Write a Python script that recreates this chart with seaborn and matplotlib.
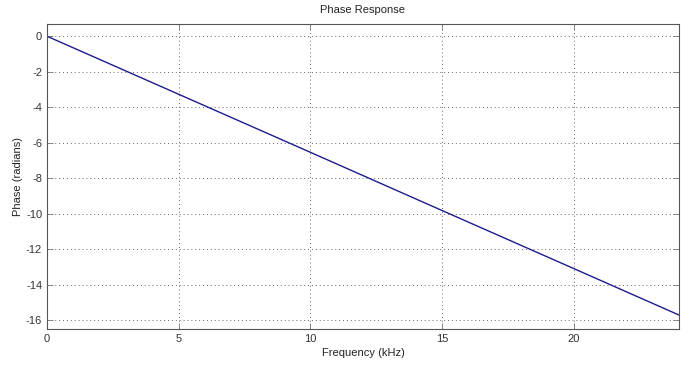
import pandas as pd
import matplotlib
matplotlib.use("Agg")
import matplotlib.pyplot as plt
import seaborn as sns

# values
freq_khz = [0, 5, 10, 15, 20, 24]
phase_rad = [0, -3.27, -6.54, -9.82, -13.09, -15.71]
x_ticks = [0, 5, 10, 15, 20]
y_ticks = [0, -2, -4, -6, -8, -10, -12, -14, -16]

df = pd.DataFrame({"freq": freq_khz, "phase": phase_rad})

sns.set_theme(style="white")
plt.rcParams["font.family"] = ["Liberation Sans", "DejaVu Sans"]
plt.rcParams["axes.unicode_minus"] = False

fig = plt.figure(figsize=(6.91, 3.66), dpi=100)
ax = fig.add_axes([0.068, 0.101, 0.9146, 0.833])

sns.lineplot(data=df, x="freq", y="phase", ax=ax, color="#1c1c8c", linewidth=1)

ax.set_xlim(0, 24)
ax.set_ylim(-16.5, 0.68)
ax.set_xticks(x_ticks)
ax.set_yticks(y_ticks)
ax.grid(True, linestyle=(0, (1, 3)), color="#666666", linewidth=0.7)
ax.tick_params(direction="in", length=4, width=0.6, labelsize=8,
               color="#777777", labelcolor="#333333",
               top=True, right=True, bottom=True, left=True)
for s in ax.spines.values():
    s.set_color("#555555")
    s.set_linewidth(0.8)

ax.set_title("Phase Response", fontsize=8, color="#222222", pad=8)
ax.set_xlabel("Frequency (kHz)", fontsize=8, color="#222222", labelpad=3)
ax.set_ylabel("Phase (radians)", fontsize=8, color="#222222", labelpad=2)

fig.savefig("out.png", dpi=100)
